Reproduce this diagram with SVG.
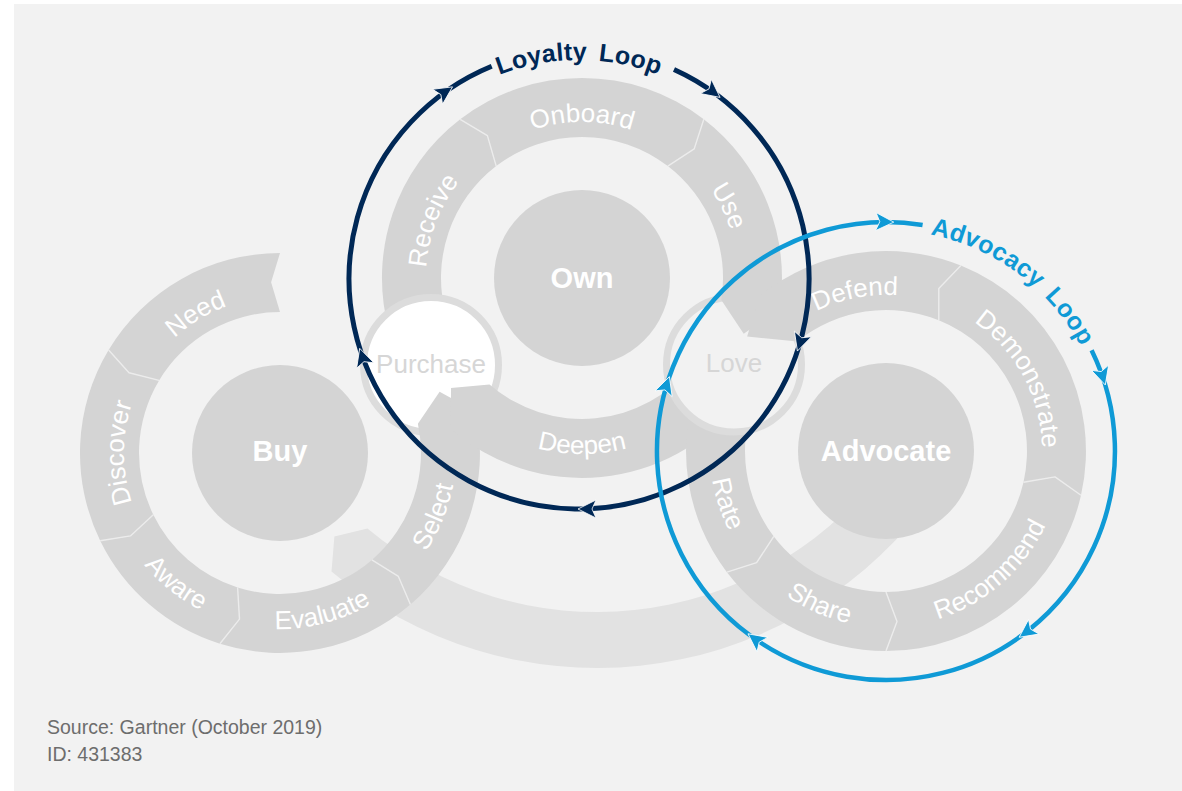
<svg xmlns="http://www.w3.org/2000/svg" width="1182" height="791" viewBox="0 0 1182 791">
  <style>
    .panel { fill: #f2f2f2; }
    .seg { fill: #d4d4d4; }
    .edge { fill: none; stroke: #ececec; stroke-width: 1.4; stroke-linejoin: round; }
    .band { fill: #e2e2e2; }
    .disc { fill: #d4d4d4; }
    .lbl { font-family: 'Liberation Sans', Arial, sans-serif; font-size: 26px; fill: #ffffff; text-anchor: middle; }
    .dlbl { font-family: 'Liberation Sans', Arial, sans-serif; font-size: 29px; font-weight: bold; fill: #ffffff; text-anchor: middle; }
    .hub { stroke: #dcdcdc; stroke-width: 7; }
    .hlbl { font-family: 'Liberation Sans', Arial, sans-serif; font-size: 26px; fill: #d6d6d6; text-anchor: middle; }
    .navy { fill: none; stroke: #002856; stroke-width: 5; }
    .blue { fill: none; stroke: #0f9ad6; stroke-width: 4.5; }
    .navyHead { fill: #002856; stroke: #ffffff; stroke-width: 0.8; }
    .blueHead { fill: #0f9ad6; stroke: #ffffff; stroke-width: 0.8; }
    .title { font-family: 'Liberation Sans', Arial, sans-serif; font-size: 25px; font-weight: bold; text-anchor: middle; letter-spacing: 0.3px; word-spacing: 4px; }
    .foot { font-family: 'Liberation Sans', Arial, sans-serif; font-size: 19.5px; fill: #6d6d6d; }
  </style>
  <defs>
    <!-- label baselines: outward-facing (clockwise) and inward-facing (counter-clockwise) ring arcs -->
    <path id="arcOut" d="M-146.6,-53.4 A156,156 0 0 1 146.6,-53.4"/>
    <path id="arcIn" d="M-165.4,60.2 A176,176 0 0 0 165.4,60.2"/>
    <path id="arcLoyalty" d="M389.3,169.5 A219,219 0 0 1 768.7,169.5"/>
    <path id="arcAdvocacy" d="M798.6,248 A221,221 0 0 1 1105.5,476.8"/>
    <path id="head" d="M1,0 L-17,-9 L-13,0 L-17,9 Z"/>
  </defs>

  <rect class="panel" x="14" y="4" width="1168" height="787"/>

  <!-- light band sweeping from the Buy ring under to the Advocate ring -->
  <g id="buy-advocate-band">
    <path class="band" d="M878.3,474.8 A357,357 0 0 1 367.5,528.5 L334.4,536.6 L331.5,571.4 A413,413 0 0 0 922.4,509.3 Z"/>
  </g>

  <!-- Buy ring -->
  <g id="stage-need" transform="translate(280,453)">
    <path class="seg" d="M-171.4,-103 A200,200 0 0 1 0,-200 L-8.9,-170.8 L0,-141 A141,141 0 0 0 -120.9,-72.6 L-151,-80.3 Z"/>
    <text class="lbl" transform="rotate(-31.2)"><textPath href="#arcOut" startOffset="50%">Need</textPath></text>
  </g>
  <g id="stage-discover" transform="translate(280,453)">
    <path class="seg" d="M-179.8,87.7 A200,200 0 0 1 -171.4,-103 L-151,-80.3 L-120.9,-72.6 A141,141 0 0 0 -126.7,61.8 L-149.6,82.9 Z"/>
    <polyline class="edge" points="-171.4,-103 -151,-80.3 -120.9,-72.6"/>
    <text class="lbl" transform="rotate(-90)"><textPath href="#arcOut" startOffset="50%">Discover</textPath></text>
  </g>
  <g id="stage-aware" transform="translate(280,453)">
    <path class="seg" d="M-60.1,190.7 A200,200 0 0 1 -179.8,87.7 L-149.6,82.9 L-126.7,61.8 A141,141 0 0 0 -42.4,134.5 L-40.5,166.1 Z"/>
    <polyline class="edge" points="-179.8,87.7 -149.6,82.9 -126.7,61.8"/>
    <text class="lbl" transform="rotate(38.6)"><textPath href="#arcIn" startOffset="50%">Aware</textPath></text>
  </g>
  <g id="stage-evaluate" transform="translate(280,453)">
    <path class="seg" d="M130.4,151.6 A200,200 0 0 1 -60.1,190.7 L-40.5,166.1 L-42.4,134.5 A141,141 0 0 0 91.9,106.9 L118.4,123.4 Z"/>
    <polyline class="edge" points="-60.1,190.7 -40.5,166.1 -42.4,134.5"/>
    <text class="lbl" transform="rotate(-14.8)"><textPath href="#arcIn" startOffset="50%">Evaluate</textPath></text>
  </g>

  <!-- Own ring, first part -->
  <g id="stage-receive" transform="translate(582,278)">
    <path class="seg" d="M-193.2,51.8 A200,200 0 0 1 -121.8,-158.7 L-94.6,-142.4 L-85.8,-111.9 A141,141 0 0 0 -136.2,36.5 L-168.9,26.7 Z"/>
    <text class="lbl" transform="rotate(-69)"><textPath href="#arcOut" startOffset="50%">Receive</textPath></text>
  </g>
  <g id="stage-onboard" transform="translate(582,278)">
    <path class="seg" d="M-121.8,-158.7 A200,200 0 0 1 121.8,-158.7 L112.2,-129.1 L85.8,-111.9 A141,141 0 0 0 -85.8,-111.9 L-94.6,-142.4 Z"/>
    <polyline class="edge" points="-121.8,-158.7 -94.6,-142.4 -85.8,-111.9"/>
    <text class="lbl" transform="rotate(0)"><textPath href="#arcOut" startOffset="50%">Onboard</textPath></text>
  </g>

  <!-- Advocate ring, first part -->
  <g id="stage-demonstrate" transform="translate(886,451)">
    <path class="seg" d="M74.9,-185.4 A200,200 0 0 1 195,44.3 L169,25.9 L137.5,31.2 A141,141 0 0 0 52.8,-130.7 L52.8,-162.6 Z"/>
    <text class="lbl" transform="rotate(61.6)"><textPath href="#arcOut" startOffset="50%">Demonstrate</textPath></text>
  </g>
  <g id="stage-recommend" transform="translate(886,451)">
    <path class="seg" d="M195,44.3 A200,200 0 0 1 0,200 L11,170.6 L0,141 A141,141 0 0 0 137.5,31.2 L169,25.9 Z"/>
    <polyline class="edge" points="195,44.3 169,25.9 137.5,31.2"/>
    <text class="lbl" transform="rotate(-41.1)"><textPath href="#arcIn" startOffset="50%">Recommend</textPath></text>
  </g>
  <g id="stage-share" transform="translate(886,451)">
    <path class="seg" d="M0,200 A200,200 0 0 1 -159.1,121.2 L-129.4,111.7 L-112.2,85.4 A141,141 0 0 0 0,141 L11,170.6 Z"/>
    <polyline class="edge" points="0,200 11,170.6 0,141"/>
    <text class="lbl" transform="rotate(23.4)"><textPath href="#arcIn" startOffset="50%">Share</textPath></text>
  </g>

  <!-- Purchase hub between Buy and Own -->
  <g id="hub-purchase">
    <circle class="hub" cx="431" cy="365" r="67.5" fill="#ffffff"/>
    <text class="hlbl" x="431" y="373">Purchase</text>
  </g>

  <g id="stage-select" transform="translate(280,453)">
    <path class="seg" d="M195.6,-41.6 A200,200 0 0 1 130.4,151.6 L118.4,123.4 L91.9,106.9 A141,141 0 0 0 137.9,-29.3 L159.6,-61.3 Z"/>
    <polyline class="edge" points="130.4,151.6 118.4,123.4 91.9,106.9"/>
    <text class="lbl" transform="rotate(-67.7)"><textPath href="#arcIn" startOffset="50%">Select</textPath></text>
  </g>
  <g id="stage-deepen" transform="translate(582,278)">
    <path class="seg" d="M157.6,123.1 A200,200 0 0 1 -131.2,150.9 L-131,109.9 L-92.5,106.4 A141,141 0 0 0 111.1,86.8 L123,118.8 Z"/>
    <text class="lbl" transform="rotate(0)"><textPath href="#arcIn" startOffset="50%">Deepen</textPath></text>
  </g>
  <g id="stage-rate" transform="translate(886,451)">
    <path class="seg" d="M-159.1,121.2 A200,200 0 0 1 -187.9,-68.4 L-165.9,-41.4 L-132.5,-48.2 A141,141 0 0 0 -112.2,85.4 L-129.4,111.7 Z"/>
    <polyline class="edge" points="-159.1,121.2 -129.4,111.7 -112.2,85.4"/>
    <text class="lbl" transform="rotate(71.7)"><textPath href="#arcIn" startOffset="50%">Rate</textPath></text>
  </g>

  <!-- Love hub between Own and Advocate -->
  <g id="hub-love">
    <circle class="hub" cx="734" cy="364.5" r="67.5" fill="#f2f2f2"/>
    <text class="hlbl" x="734" y="372">Love</text>
  </g>

  <g id="stage-use" transform="translate(582,278)">
    <path class="seg" d="M121.8,-158.7 A200,200 0 0 1 197.5,31.3 L161.7,55.7 L139.3,22.1 A141,141 0 0 0 85.8,-111.9 L112.2,-129.1 Z"/>
    <polyline class="edge" points="121.8,-158.7 112.2,-129.1 85.8,-111.9"/>
    <text class="lbl" transform="rotate(63.9)"><textPath href="#arcOut" startOffset="50%">Use</textPath></text>
  </g>
  <g id="stage-defend" transform="translate(886,451)">
    <path class="seg" d="M-125.9,-155.4 A200,200 0 0 1 74.9,-185.4 L52.8,-162.6 L52.8,-130.7 A141,141 0 0 0 -88.7,-109.6 L-138.9,-114.5 Z"/>
    <polyline class="edge" points="74.9,-185.4 52.8,-162.6 52.8,-130.7"/>
    <text class="lbl" transform="rotate(-11.1)"><textPath href="#arcOut" startOffset="50%">Defend</textPath></text>
  </g>

  <!-- centre discs -->
  <g id="node-buy">
    <circle class="disc" cx="280" cy="453" r="88"/>
    <text class="dlbl" x="280" y="461">Buy</text>
  </g>
  <g id="node-own">
    <circle class="disc" cx="582" cy="278" r="88"/>
    <text class="dlbl" x="582" y="288">Own</text>
  </g>
  <g id="node-advocate">
    <circle class="disc" cx="886" cy="451" r="88"/>
    <text class="dlbl" x="886" y="461">Advocate</text>
  </g>

  <!-- loop connectors -->
  <g id="connectors">
    <g id="loyalty-loop">
      <path class="navy" d="M674,69.5 A230,230 0 1 1 491.7,66.2"/>
      <use href="#head" class="navyHead" transform="translate(451.7,87.4) rotate(-33.6)"/>
      <use href="#head" class="navyHead" transform="translate(719.3,96.8) rotate(37.6)"/>
      <use href="#head" class="navyHead" transform="translate(797.7,350.1) rotate(108)"/>
      <use href="#head" class="navyHead" transform="translate(579,509) rotate(180)"/>
      <use href="#head" class="navyHead" transform="translate(360,349.3) rotate(252.2)"/>
      <text class="title" fill="#002856"><textPath href="#arcLoyalty" startOffset="50%">Loyalty Loop</textPath></text>
    </g>
    <g id="advocacy-loop">
      <path class="blue" d="M1091.6,350.3 A229,229 0 1 1 922.6,225"/>
      <use href="#head" class="blueHead" transform="translate(892.8,222.1) rotate(1.7)"/>
      <use href="#head" class="blueHead" transform="translate(1105,384) rotate(73)"/>
      <use href="#head" class="blueHead" transform="translate(1020,636.7) rotate(144.2)"/>
      <use href="#head" class="blueHead" transform="translate(748.8,634.4) rotate(216.8)"/>
      <use href="#head" class="blueHead" transform="translate(669.1,377.6) rotate(288.7)"/>
      <text class="title" fill="#0f9ad6"><textPath href="#arcAdvocacy" startOffset="50%">Advocacy Loop</textPath></text>
    </g>
  </g>

  <g id="footer">
    <text class="foot" x="47" y="734">Source: Gartner (October 2019)</text>
    <text class="foot" x="47" y="761">ID: 431383</text>
  </g>
</svg>
